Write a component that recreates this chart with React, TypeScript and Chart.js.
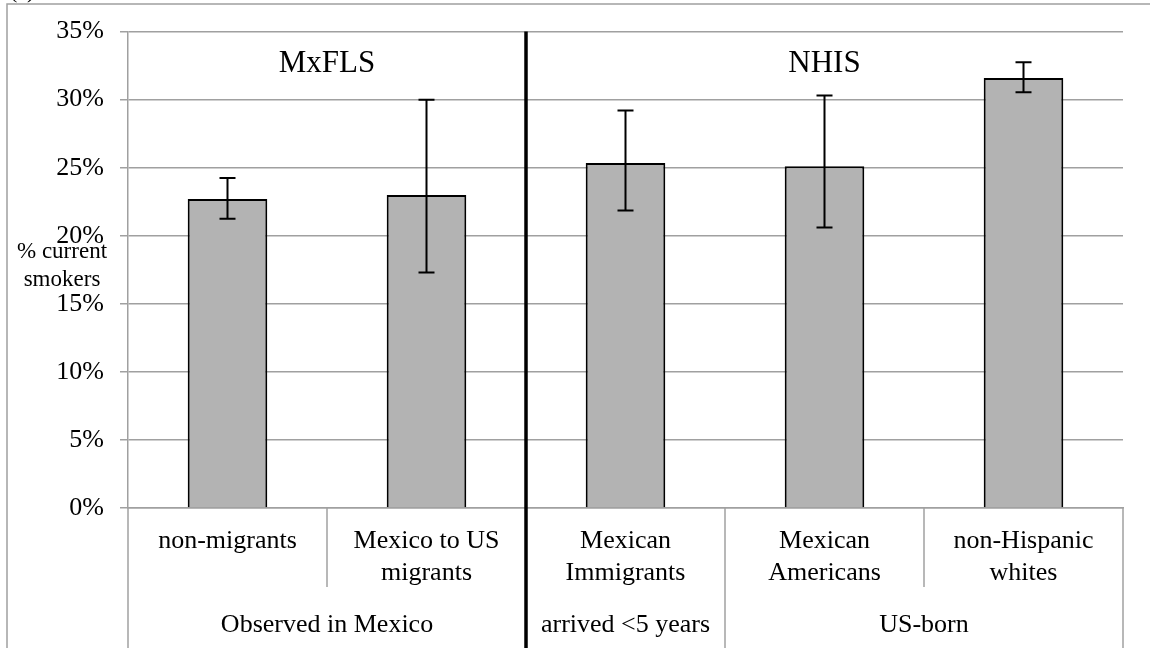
import React, { useEffect, useRef } from "react";
import { Chart, registerables } from "chart.js";

Chart.register(...registerables);

const categories: string[][] = [
  ["non-migrants"],
  ["Mexico to US", "migrants"],
  ["Mexican", "Immigrants"],
  ["Mexican", "Americans"],
  ["non-Hispanic", "whites"],
];
const smokerPct: number[] = [22.7, 23.0, 25.35, 25.1, 31.6];
const ciLow: number[] = [21.25, 17.3, 21.85, 20.6, 30.55];
const ciHigh: number[] = [24.25, 30.0, 29.2, 30.3, 32.75];
const groupLabels: string[] = ["Observed in Mexico", "arrived <5 years", "US-born"];
const groupSpans: number[] = [2, 1, 2];
const surveyLabels: string[] = ["MxFLS", "NHIS"];
const surveySpans: number[] = [2, 3];
const yTicks = { min: 0, max: 35, step: 5 };
const axisTitle: string[] = ["% current", "smokers"];
const panelLabel = "(a)";

const FONT = "'Liberation Serif', 'Times New Roman', serif";
const GRID = "#a0a0a0";

const overlay = {
  id: "overlay",
  afterDraw(chart: any) {
    const ctx = chart.ctx as CanvasRenderingContext2D;
    const x = chart.scales.x;
    const y = chart.scales.y;
    const area = chart.chartArea;
    const H = chart.height;
    const half = (x.getPixelForValue(1) - x.getPixelForValue(0)) / 2;
    const edge = (i: number) => x.getPixelForValue(i) - half;

    ctx.save();
    // outer frame
    ctx.strokeStyle = GRID;
    ctx.lineWidth = 1.5;
    ctx.strokeRect(7, 4, 2000, 2000);

    ctx.fillStyle = "#000";
    ctx.font = `22px ${FONT}`;
    ctx.textAlign = "left";
    ctx.textBaseline = "alphabetic";
    ctx.fillText(panelLabel, 10, -2);

    // label-area separators
    const groupBounds = new Set<number>([0]);
    let acc = 0;
    groupSpans.forEach((s) => {
      acc += s;
      groupBounds.add(acc);
    });
    ctx.strokeStyle = GRID;
    ctx.lineWidth = 1.5;
    for (let i = 0; i <= categories.length; i++) {
      const px = edge(i);
      const full = groupBounds.has(i);
      ctx.beginPath();
      ctx.moveTo(px, area.bottom);
      ctx.lineTo(px, full ? H : area.bottom + 79);
      ctx.stroke();
    }

    // group labels
    ctx.fillStyle = "#000";
    ctx.font = `26px ${FONT}`;
    ctx.textAlign = "center";
    ctx.textBaseline = "middle";
    let start = 0;
    groupLabels.forEach((g, gi) => {
      const end = start + groupSpans[gi];
      const cx = (edge(start) + edge(end)) / 2;
      ctx.fillText(g, cx, 625);
      start = end;
    });

    // survey titles and divider
    ctx.font = `31px ${FONT}`;
    start = 0;
    surveyLabels.forEach((s, si) => {
      const end = start + surveySpans[si];
      const cx = (edge(start) + edge(end)) / 2;
      ctx.fillText(s, cx, 64);
      if (si < surveyLabels.length - 1) {
        ctx.strokeStyle = "#000";
        ctx.lineWidth = 3.5;
        ctx.beginPath();
        ctx.moveTo(edge(end), area.top);
        ctx.lineTo(edge(end), H);
        ctx.stroke();
      }
      start = end;
    });

    // axis title
    ctx.font = `23px ${FONT}`;
    ctx.fillText(axisTitle[0], 62, 252);
    ctx.fillText(axisTitle[1], 62, 280);

    // error bars
    ctx.strokeStyle = "#000";
    ctx.lineWidth = 2;
    smokerPct.forEach((_, i) => {
      const cx = x.getPixelForValue(i);
      const yl = y.getPixelForValue(ciLow[i]);
      const yh = y.getPixelForValue(ciHigh[i]);
      ctx.beginPath();
      ctx.moveTo(cx, yl);
      ctx.lineTo(cx, yh);
      ctx.moveTo(cx - 8, yl);
      ctx.lineTo(cx + 8, yl);
      ctx.moveTo(cx - 8, yh);
      ctx.lineTo(cx + 8, yh);
      ctx.stroke();
    });
    ctx.restore();
  },
};

export default function App() {
  const ref = useRef<HTMLCanvasElement | null>(null);
  useEffect(() => {
    if (!ref.current) return;
    const chart = new Chart(ref.current, {
      type: "bar",
      data: {
        labels: categories,
        datasets: [
          {
            data: smokerPct,
            backgroundColor: "#b3b3b3",
            borderColor: "#000",
            borderWidth: 2,
            categoryPercentage: 1,
            barPercentage: 0.4,
          },
        ],
      },
      options: {
        animation: false,
        responsive: false,
        devicePixelRatio: 1,
        layout: { padding: { left: 0, top: 27, right: 27, bottom: 0 } },
        plugins: { legend: { display: false }, tooltip: { enabled: false } },
        scales: {
          x: {
            offset: true,
            grid: { display: true, drawOnChartArea: false, drawTicks: false },
            border: { display: true, color: GRID, width: 1.5 },
            ticks: {
              color: "#000",
              font: { family: FONT, size: 26 },
              padding: 18,
              maxRotation: 0,
              minRotation: 0,
              autoSkip: false,
            },
            afterFit: (s: any) => {
              s.height = 140;
            },
          },
          y: {
            min: yTicks.min,
            max: yTicks.max,
            grid: { color: GRID, lineWidth: 1.5, tickLength: 8 },
            border: { display: true, color: GRID, width: 1.5 },
            ticks: {
              stepSize: yTicks.step,
              color: "#000",
              font: { family: FONT, size: 26 },
              padding: 16,
              callback: (v: any) => `${v}%`,
            },
            afterFit: (s: any) => {
              s.width = 128;
            },
          },
        },
      },
      plugins: [overlay],
    });
    return () => chart.destroy();
  }, []);
  return (
    <div style={{ position: "absolute", left: 0, top: 0, width: 1150, height: 648, background: "#fff" }}>
      <canvas ref={ref} width={1150} height={648} style={{ display: "block" }} />
    </div>
  );
}
